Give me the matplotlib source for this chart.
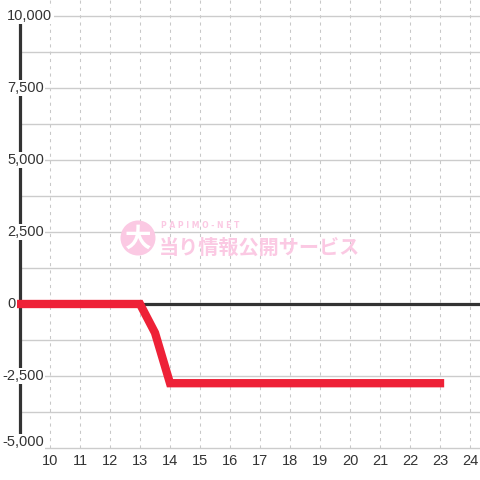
import matplotlib.pyplot as plt
from matplotlib.patches import Circle
import matplotlib.transforms as mtransforms

# data
hours = [9, 13, 13.5, 14, 23]
diff = [0, 0, -1000, -2750, -2750]

x_ticks = list(range(10, 25))
y_ticks = [-5000, -2500, 0, 2500, 5000, 7500, 10000]
y_grid = [-5000 + 1250 * i for i in range(13)]

W = H = 480
fig = plt.figure(figsize=(4.8, 4.8), dpi=100)
fig.patch.set_facecolor('white')

# axes spans the whole figure; limits chosen so 9 -> px 20, 24 -> px 470,
# 10000 -> px 16 (from top), -5000 -> px 448
ax = fig.add_axes([0, 0, 1, 1])
px_per_x = 30.0
px_per_y = 288.0 / 10000
x0 = 9 - 20 / px_per_x
x1 = 9 + (W - 20) / px_per_x
y_top = 10000 + 16 / px_per_y
y_bot = -5000 - (H - 448) / px_per_y
ax.set_xlim(x0, x1)
ax.set_ylim(y_bot, y_top)
ax.axis('off')

grid_c = '#cccccc'
for x in x_ticks:
    ax.plot([x, x], [-5000, y_top], color='#c8c8c8', lw=0.75, ls=(0, (3, 4)), zorder=1)
for y in y_grid:
    ax.plot([9, x1], [y, y], color=grid_c, lw=1, zorder=1)

# watermark
wm = '#fbc9e3'
circ = Circle((138, H - 238), 17.5, transform=None, facecolor=wm, edgecolor='none', zorder=2)
ax.add_patch(circ)
fig.text(138 / W, 1 - 239 / H, '大', family=['Noto Sans CJK JP', 'DejaVu Sans'],
         fontsize=19, fontweight='bold', color='white', ha='center', va='center', zorder=3)
fig.text(161 / W, 1 - 225 / H, 'P A P I M O - N E T', family='DejaVu Sans', fontsize=5.5,
         fontweight='bold', color=wm, ha='left', va='center', zorder=3)
fig.text(159 / W, 1 - 247 / H, '当り情報公開サービス', family=['Noto Sans CJK JP', 'DejaVu Sans'],
         fontsize=14.5, fontweight='bold', color=wm, ha='left', va='center', zorder=3)

dark = '#333333'
ax.plot([9, x1], [0, 0], color=dark, lw=2.3, solid_capstyle='butt', zorder=4)
ax.plot([9, 9], [-5000, 10000], color=dark, lw=2.3, solid_capstyle='butt', zorder=4)

ax.plot(hours, diff, color='#ee2137', lw=6, solid_capstyle='projecting',
        solid_joinstyle='miter', zorder=5)

# y tick labels with white background over the left bar
tr = mtransforms.blended_transform_factory(fig.transFigure, ax.transData)
for v in y_ticks:
    xp = 2 if v < 0 else 7
    yv = v + 6 / px_per_y if v == -5000 else v
    ax.text(xp / W, yv, '{:,}'.format(v), transform=tr, ha='left', va='center',
            fontsize=10.5, color=dark, family='Liberation Sans', zorder=6,
            bbox=dict(facecolor='white', edgecolor='none', pad=1))

for x in x_ticks:
    ax.text(x, -5000 - 13 / px_per_y, str(x), ha='center', va='center',
            fontsize=10.5, color=dark, family='Liberation Sans', zorder=6)

fig.savefig('out.png', dpi=100, facecolor='white')
